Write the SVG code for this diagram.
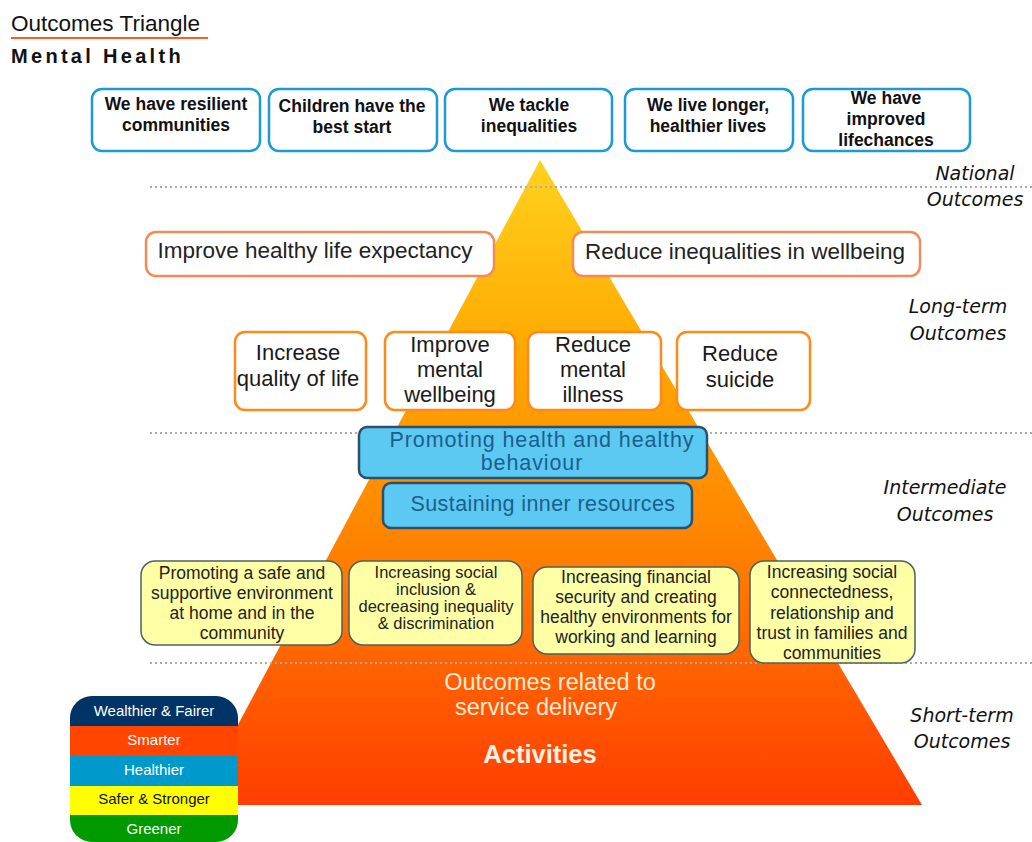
<svg xmlns="http://www.w3.org/2000/svg" width="1032" height="842" viewBox="0 0 1032 842">
<defs>
<linearGradient id="pyr" x1="0" y1="160" x2="0" y2="805" gradientUnits="userSpaceOnUse">
<stop offset="0" stop-color="#FFD21E"/>
<stop offset="0.3" stop-color="#FFA800"/>
<stop offset="0.55" stop-color="#FF8A00"/>
<stop offset="0.8" stop-color="#FF6000"/>
<stop offset="1" stop-color="#FF3D00"/>
</linearGradient>
<clipPath id="legclip"><rect x="70" y="696" width="168" height="146" rx="22"/></clipPath>
<style>
.nat rect{fill:#fff;stroke:#1A9BD7;stroke-width:2.5}
.nat text{font-family:"Liberation Sans",Arial,sans-serif;font-weight:bold;font-size:17.5px;fill:#111;text-anchor:middle}
.lt rect{fill:#fff;stroke:#F28A5A;stroke-width:2.5}
.lt text{font-family:"Liberation Sans",Arial,sans-serif;font-size:22.5px;fill:#222;text-anchor:middle}
.im rect{fill:#fff;stroke:#FF8A1A;stroke-width:2.5}
.im text{font-family:"Liberation Sans",Arial,sans-serif;font-size:22px;fill:#1a1a1a;text-anchor:middle}
.bl rect{fill:#5CC9F2;stroke:#2B4F6E;stroke-width:2.5}
.bl text{font-family:"Liberation Sans",Arial,sans-serif;font-size:21.5px;fill:#1C5E8E;text-anchor:middle}
.yl rect{fill:#FFFFA6;stroke:#4E6060;stroke-width:1.5}
.yl text{font-family:"Liberation Sans",Arial,sans-serif;font-size:17.5px;fill:#222;text-anchor:middle}
.yl text.s{font-size:16.5px}
.hand{font-family:"DejaVu Sans",sans-serif;font-size:19px;fill:#111;text-anchor:middle;font-style:italic}
.dot{stroke:#AAAAAA;stroke-width:2;stroke-dasharray:2 3}
.leg{font-family:"Liberation Sans",Arial,sans-serif;font-size:15px;text-anchor:middle}
.svc{font-family:"Liberation Sans",Arial,sans-serif;font-size:23.5px;fill:#FFEBD6;text-anchor:middle}
</style>
</defs>
<rect width="1032" height="842" fill="#fff"/>
<g id="title">
<text x="11" y="31" font-family="Liberation Sans,Arial,sans-serif" font-size="22" fill="#111" textLength="189" lengthAdjust="spacingAndGlyphs">Outcomes Triangle</text>
<line x1="11" y1="38" x2="208" y2="38" stroke="#FF5A2A" stroke-width="2"/>
<text x="11" y="63" font-family="Liberation Sans,Arial,sans-serif" font-size="20" font-weight="bold" letter-spacing="3.3" fill="#111">Mental Health</text>
</g>
<g id="pyramid">
<polygon points="540,160 922,805 195,805" fill="url(#pyr)"/>
</g>
<g id="connectors">
<line class="dot" x1="150" y1="187" x2="1032" y2="187"/>
<line class="dot" x1="150" y1="433" x2="1032" y2="433"/>
<line class="dot" x1="150" y1="663" x2="1032" y2="663"/>
</g>
<g id="nat1" class="nat"><rect x="92" y="89" width="168" height="62" rx="10"/><text x="176" y="110">We have resilient</text><text x="176" y="131">communities</text></g>
<g id="nat2" class="nat"><rect x="269" y="89" width="168" height="62" rx="10"/><text x="352" y="112">Children have the</text><text x="352" y="133">best start</text></g>
<g id="nat3" class="nat"><rect x="445" y="89" width="167" height="62" rx="10"/><text x="529" y="111">We tackle</text><text x="529" y="132">inequalities</text></g>
<g id="nat4" class="nat"><rect x="625" y="89" width="168" height="62" rx="10"/><text x="708" y="111">We live longer,</text><text x="708" y="132">healthier lives</text></g>
<g id="nat5" class="nat"><rect x="803" y="89" width="167" height="62" rx="10"/><text x="886" y="104">We have</text><text x="886" y="125">improved</text><text x="886" y="146">lifechances</text></g>
<g id="lt1" class="lt"><rect x="146" y="232" width="348" height="44" rx="10"/><text x="315" y="258">Improve healthy life expectancy</text></g>
<g id="lt2" class="lt"><rect x="573" y="232" width="347" height="44" rx="10"/><text x="745" y="259">Reduce inequalities in wellbeing</text></g>
<g id="im1" class="im"><rect x="235" y="332" width="131" height="78" rx="10"/><text x="298" y="360">Increase</text><text x="298" y="386">quality of life</text></g>
<g id="im2" class="im"><rect x="385" y="332" width="130" height="78" rx="10"/><text x="450" y="352">Improve</text><text x="450" y="377">mental</text><text x="450" y="402">wellbeing</text></g>
<g id="im3" class="im"><rect x="528" y="332" width="133" height="78" rx="10"/><text x="593" y="352">Reduce</text><text x="593" y="377">mental</text><text x="593" y="402">illness</text></g>
<g id="im4" class="im"><rect x="677" y="332" width="133" height="78" rx="10"/><text x="740" y="361">Reduce</text><text x="740" y="387">suicide</text></g>
<g id="bl1" class="bl"><rect x="359" y="427" width="348" height="51" rx="8"/><text x="542" y="447" letter-spacing="0.9">Promoting health and healthy</text><text x="532" y="470" letter-spacing="0.9">behaviour</text></g>
<g id="bl2" class="bl"><rect x="383" y="483" width="309" height="45" rx="8"/><text x="543" y="511" letter-spacing="0.4">Sustaining inner resources</text></g>
<g id="yl1" class="yl"><rect x="141" y="561" width="201" height="84" rx="14"/><text x="242" y="579">Promoting a safe and</text><text x="242" y="599">supportive environment</text><text x="242" y="619">at home and in the</text><text x="242" y="639">community</text></g>
<g id="yl2" class="yl"><rect x="349" y="561" width="173" height="84" rx="14"/><text class="s" x="436" y="578">Increasing social</text><text class="s" x="436" y="595">inclusion &amp;</text><text class="s" x="436" y="612">decreasing inequality</text><text class="s" x="436" y="629">&amp; discrimination</text></g>
<g id="yl3" class="yl"><rect x="533" y="567" width="206" height="87" rx="14"/><text x="636" y="583">Increasing financial</text><text x="636" y="603">security and creating</text><text x="636" y="623">healthy environments for</text><text x="636" y="643">working and learning</text></g>
<g id="yl4" class="yl"><rect x="750" y="561" width="165" height="102" rx="14"/><text x="832" y="578">Increasing social</text><text x="832" y="598">connectedness,</text><text x="832" y="619">relationship and</text><text x="832" y="639">trust in families and</text><text x="832" y="659">communities</text></g>
<g id="service">
<text class="svc" x="550" y="690">Outcomes related to</text>
<text class="svc" x="536" y="715">service delivery</text>
<text x="540" y="763" font-family="Liberation Sans,Arial,sans-serif" font-size="25.5" font-weight="bold" fill="#FFF1E6" text-anchor="middle">Activities</text>
</g>
<g id="labels">
<text class="hand" x="975" y="180">National</text><text class="hand" x="975" y="206">Outcomes</text>
<text class="hand" x="958" y="313">Long-term</text><text class="hand" x="958" y="340">Outcomes</text>
<text class="hand" x="945" y="494">Intermediate</text><text class="hand" x="945" y="521">Outcomes</text>
<text class="hand" x="962" y="722">Short-term</text><text class="hand" x="962" y="748">Outcomes</text>
</g>
<g id="legend">
<g clip-path="url(#legclip)">
<rect x="70" y="696" width="168" height="30" fill="#003366"/>
<rect x="70" y="726" width="168" height="30" fill="#FF4500"/>
<rect x="70" y="756" width="168" height="30" fill="#0099CC"/>
<rect x="70" y="786" width="168" height="29" fill="#FFFF00"/>
<rect x="70" y="815" width="168" height="27" fill="#009900"/>
</g>
<text class="leg" x="154" y="716" fill="#fff">Wealthier &amp; Fairer</text>
<text class="leg" x="154" y="745" fill="#fff">Smarter</text>
<text class="leg" x="154" y="775" fill="#fff">Healthier</text>
<text class="leg" x="154" y="804" fill="#111">Safer &amp; Stronger</text>
<text class="leg" x="154" y="834" fill="#fff">Greener</text>
</g>
</svg>
